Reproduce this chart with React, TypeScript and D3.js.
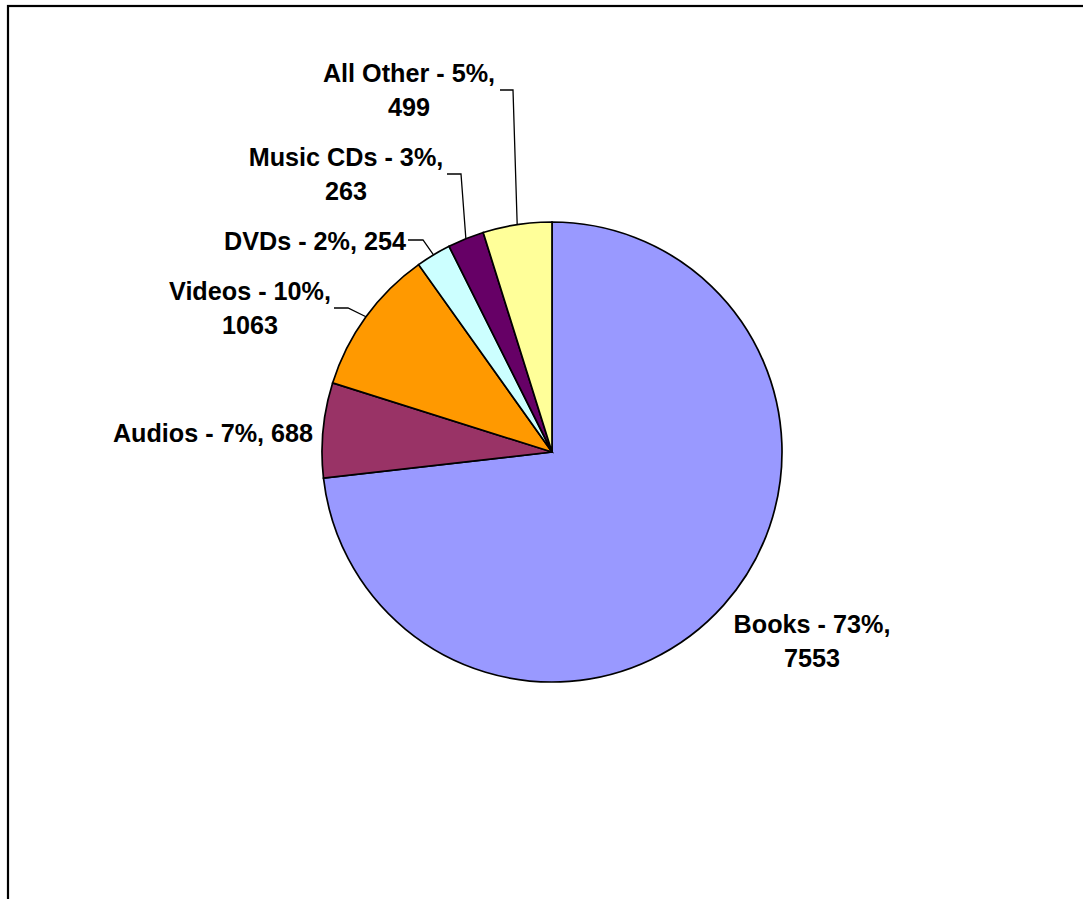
import React from "react";
import * as d3 from "d3";

const categories = ["Books", "Audios", "Videos", "DVDs", "Music CDs", "All Other"];
const values = [7553, 688, 1063, 254, 263, 499];
const colors = ["#9999FF", "#993366", "#FF9900", "#CCFFFF", "#660066", "#FFFF99"];
// whether label wraps value on a second line
const wrapValue = [true, false, true, false, true, true];
// label layout: center x, first baseline y
const labelX = [812, 213, 250, 315, 346, 409];
const labelY = [633, 442, 300, 250, 166, 82];
// leader elbow: [startX, elbowX, y] (null = no leader)
const leaders: (number[] | null)[] = [
  null,
  null,
  [334, 348, 308],
  [408, 423, 240],
  [447, 461, 174],
  [500, 513, 90],
];

const W = 1083;
const H = 899;
const cx = 552;
const cy = 452;
const R = 230;

export default function App() {
  const total = d3.sum(values);
  const pie = d3.pie<number>().sort(null).value((d) => d)(values);
  const arc = d3.arc<d3.PieArcDatum<number>>().innerRadius(0).outerRadius(R);
  const font = "'Liberation Sans', Arial, Helvetica, sans-serif";

  return (
    <svg
      width={W}
      height={H}
      style={{ position: "absolute", left: 0, top: 0, background: "#fff" }}
    >
      <rect x={8} y={6} width={1300} height={1200} fill="#fff" stroke="#000" strokeWidth={2.2} />
      <g transform={`translate(${cx},${cy})`}>
        {pie.map((p, i) => (
          <path key={i} d={arc(p) || ""} fill={colors[i]} stroke="#000" strokeWidth={1.7} strokeLinejoin="miter" />
        ))}
      </g>
      {pie.map((p, i) => {
        const l = leaders[i];
        if (!l) return null;
        const mid = (p.startAngle + p.endAngle) / 2;
        const ex = cx + R * Math.sin(mid);
        const ey = cy - R * Math.cos(mid);
        return (
          <polyline
            key={"l" + i}
            points={`${l[0]},${l[2]} ${l[1]},${l[2]} ${ex},${ey}`}
            fill="none"
            stroke="#000"
            strokeWidth={1.3}
          />
        );
      })}
      {categories.map((c, i) => {
        const pct = Math.round((values[i] / total) * 100);
        const line1 = `${c} - ${pct}%,`;
        return (
          <text
            key={"t" + i}
            x={labelX[i]}
            y={labelY[i]}
            textAnchor="middle"
            fontFamily={font}
            fontWeight="bold"
            fontSize={25.2}
            fill="#000"
          >
            {wrapValue[i] ? (
              <>
                <tspan x={labelX[i]}>{line1}</tspan>
                <tspan x={labelX[i]} dy={34}>{values[i]}</tspan>
              </>
            ) : (
              `${line1} ${values[i]}`
            )}
          </text>
        );
      })}
    </svg>
  );
}
